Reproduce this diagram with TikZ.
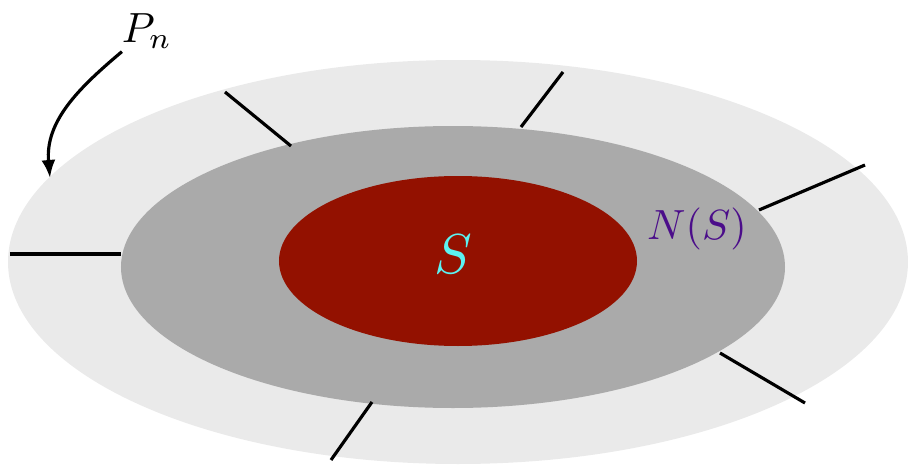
\documentclass[tikz,border=0pt]{standalone}
\usepackage{amsmath,amssymb}
\usepackage{tikz}
\usetikzlibrary{arrows.meta,calc,positioning}
\definecolor{outergray}{HTML}{EAEAEA}
\definecolor{midgray}{HTML}{AAAAAA}
\definecolor{setred}{HTML}{931100}
\definecolor{setcyan}{HTML}{5CF2F2}
\definecolor{nbindigo}{HTML}{4B0D8A}
\tikzset{
  spoke/.style={line width=1.8pt,color=black},
  pointer/.style={-{Latex[length=3.6mm,width=2.8mm]},line width=1.8pt},
  bigmath/.style={inner sep=1pt,scale=2.4},
  hugemath/.style={inner sep=1pt,scale=3.2}
}
\begin{document}
\begin{tikzpicture}
  \useasboundingbox (-9.16,-4.08) rectangle (9.02,5.24);
  % layers
  \fill[outergray] (0,0) ellipse [x radius=9.0cm,y radius=4.04cm];
  \fill[midgray] (-0.1,-0.1) ellipse [x radius=6.64cm,y radius=2.82cm];
  \fill[setred] (0,0.02) ellipse [x radius=3.58cm,y radius=1.7cm];
  % pieces of the partition
  \foreach \a/\b in {{-8.96,0.16}/{-6.74,0.16},{-4.66,3.4}/{-3.34,2.32},
                     {1.26,2.7}/{2.1,3.8},{6.02,1.04}/{8.14,1.94},
                     {5.24,-1.82}/{6.94,-2.82},{-1.72,-2.8}/{-2.54,-3.96}}
    \draw[spoke] (\a) -- (\b);
  % labels
  \node[hugemath,text=setcyan] (s) at (-0.1,0.16) {$S$};
  \node[bigmath,text=nbindigo] (ns) at (4.78,0.66) {$N(S)$};
  \node[bigmath] (pn) at (-6.22,4.62) {$P_n$};
  \coordinate (pntip) at (-8.16,1.68);
  \draw[pointer] ($(pn.south west)+(0.1,0.04)$) to[out=220,in=95] (pntip);
\end{tikzpicture}
\end{document}
